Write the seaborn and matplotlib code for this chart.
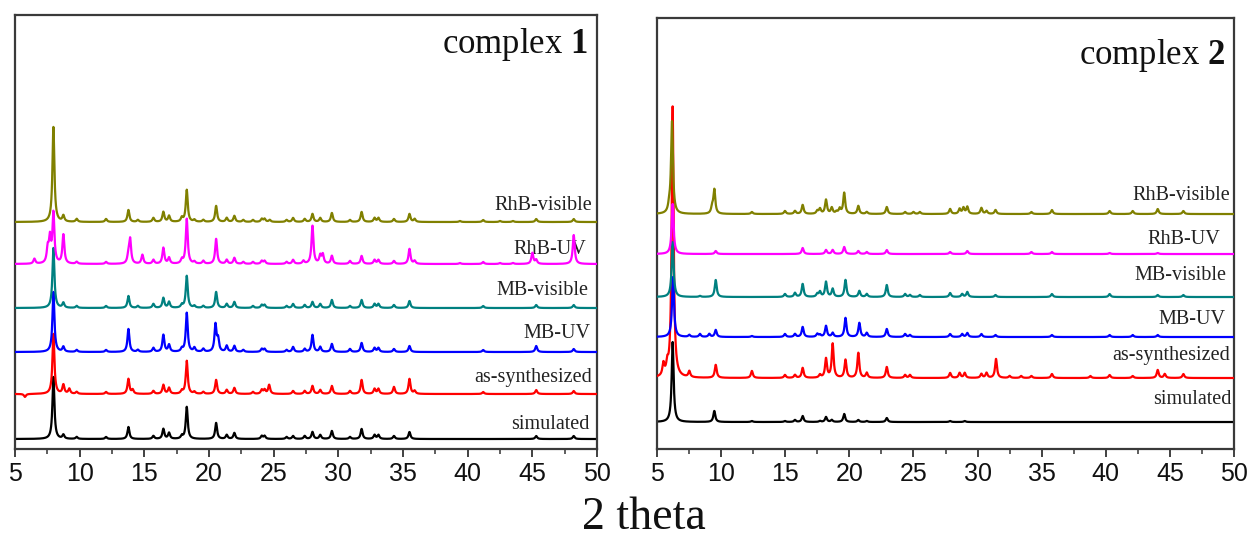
"""
PXRD patterns of complex 1 and complex 2 after dye degradation runs.
Two stacked-pattern panels sharing a common 2 theta label.
"""

import numpy as np
import pandas as pd
import matplotlib
matplotlib.use("Agg")
import matplotlib.pyplot as plt
from matplotlib.ticker import MultipleLocator
import seaborn as sns

sns.set_style("ticks")
plt.rcParams['font.family'] = ['Liberation Sans', 'DejaVu Sans']
plt.rcParams['mathtext.fontset'] = 'custom'
plt.rcParams['mathtext.rm'] = 'Liberation Serif'
plt.rcParams['mathtext.bf'] = 'Liberation Serif:bold'

labels = ['simulated', 'as-synthesized', 'MB-UV', 'MB-visible', 'RhB-UV', 'RhB-visible']
colors = ['#000000', '#ff0000', '#0000ff', '#008080', '#ff00ff', '#808000']

# ---- complex 1: baseline offset of each pattern, then peak positions / heights
c1_offsets = [10, 55, 97, 141, 185, 227]

c1_sim_pos = [7.97, 8.74, 9.77, 12.04, 13.77, 15.7, 16.47, 16.91, 17.9, 18.28, 20.55, 21.37,
              21.96, 24.08, 24.3, 26.0, 26.5, 27.4, 28.0, 28.6, 29.5, 30.9, 31.8, 32.8, 33.1,
              34.3, 35.5, 45.3, 48.2]
c1_sim_h = [62, 4, 2, 2, 12, 3, 10, 6, 3, 32, 16, 4, 6, 3, 3, 2, 3, 3, 7, 4, 8, 2, 10, 4, 4,
            3, 7, 3, 3]

c1_as_pos = [5.77, 7.97, 8.74, 9.2, 9.77, 12.04, 13.77, 14.1, 15.7, 16.47, 16.91, 17.9, 18.28,
             18.87, 19.56, 20.55, 21.37, 21.96, 23.4, 24.08, 24.3, 24.65, 26.5, 27.4, 28.0,
             28.6, 29.5, 30.9, 31.8, 32.8, 33.1, 34.3, 35.5, 35.9, 41.2, 45.3, 48.2]
c1_as_h = [-3, 60, 9, 5, 2, 2, 15, 4, 3, 9, 6, 3, 33, 2, 2, 14, 4, 6, 2, 4, 4, 9, 3, 3, 8,
           4, 8, 3, 14, 5, 5, 7, 15, 3, 2, 4, 3]

c1_mbuv_pos = [7.97, 8.74, 9.77, 12.04, 13.77, 14.5, 15.7, 16.47, 16.91, 17.9, 18.28, 18.87,
               19.56, 20.5, 20.7, 21.37, 21.96, 22.65, 24.08, 24.3, 26.0, 26.5, 27.4, 28.0,
               28.6, 29.5, 30.9, 31.8, 32.8, 33.1, 34.3, 35.5, 41.2, 45.3, 48.2]
c1_mbuv_h = [60, 5, 2, 2, 23, 2, 4, 17, 7, 3, 39, 4, 3, 27, 12, 6, 6, 2, 3, 3, 2, 5, 3, 17,
             5, 8, 3, 9, 4, 4, 3, 6, 2, 6, 3]

c1_mbvis_pos = [7.97, 8.74, 9.77, 12.04, 13.77, 14.5, 15.7, 16.47, 16.91, 17.9, 18.28, 18.87,
                19.56, 20.55, 21.37, 21.96, 23.4, 24.08, 24.3, 26.0, 26.5, 27.4, 28.0, 28.6,
                29.5, 30.9, 31.8, 32.8, 33.1, 34.3, 35.5, 41.2, 45.3, 48.2]
c1_mbvis_h = [60, 5, 2, 2, 12, 2, 4, 10, 6, 3, 32, 2, 2, 16, 4, 6, 2, 3, 3, 2, 4, 3, 6, 4,
              8, 2, 8, 4, 4, 3, 7, 2, 3, 3]

c1_rhbuv_pos = [6.5, 7.53, 7.7, 7.97, 8.74, 9.77, 12.04, 13.77, 13.9, 14.85, 15.7, 16.47,
                16.91, 17.9, 18.28, 18.87, 19.56, 20.55, 21.37, 21.96, 22.65, 23.4, 24.08,
                24.3, 26.0, 26.5, 27.3, 28.0, 28.6, 28.8, 29.5, 30.9, 31.8, 32.8, 33.1, 34.3,
                35.5, 35.9, 39.4, 41.2, 42.5, 43.5, 45.0, 45.3, 48.2]
c1_rhbuv_h = [5, 14, 24, 50, 29, 2, 2, 8, 24, 9, 4, 16, 6, 4, 45, 2, 3, 25, 4, 6, 2, 2, 3,
              3, 2, 4, 3, 38, 8, 9, 8, 3, 8, 4, 4, 3, 15, 3, 1, 2, 1, 1, 11, 4, 29]

c1_rhbvis_pos = [7.97, 8.74, 9.77, 12.04, 13.77, 14.5, 15.7, 16.47, 16.91, 17.9, 18.28, 18.87,
                 19.56, 20.55, 21.37, 21.96, 22.65, 23.4, 24.08, 24.3, 24.7, 26.0, 26.5, 27.4,
                 28.0, 28.6, 29.5, 30.9, 31.8, 32.8, 33.1, 34.3, 35.5, 35.9, 39.4, 41.2, 42.5,
                 43.5, 45.3, 48.2]
c1_rhbvis_h = [95, 6, 3, 3, 12, 2, 4, 10, 6, 4, 32, 2, 2, 16, 4, 6, 2, 2, 3, 3, 2, 2, 4, 3,
               8, 4, 9, 2, 10, 4, 4, 3, 8, 3, 1, 2, 1, 1, 3, 3]

# ---- complex 2
c2_offsets = [27, 71, 112, 152, 195, 235]

c2_sim_pos = [6.22, 9.47, 12.4, 14.98, 15.76, 16.36, 17.71, 18.18, 18.63, 19.6, 20.7, 21.36,
              22.92, 27.86, 29.0]
c2_sim_h = [80, 11, 1, 1, 2, 6, 1, 5, 2, 8, 2, 1, 4, 1, 1]

c2_as_pos = [5.5, 5.8, 6.22, 7.52, 9.58, 12.4, 14.98, 15.76, 16.36, 17.71, 18.18, 18.7, 19.7,
             20.7, 21.36, 22.92, 24.35, 24.73, 27.86, 28.6, 29.0, 30.3, 30.7, 31.44, 32.5,
             33.4, 34.2, 35.8, 38.8, 40.3, 42.1, 44.05, 44.6, 46.05]
c2_as_h = [12, 10, 271, 6, 13, 7, 3, 3, 10, 3, 19, 34, 18, 25, 5, 11, 3, 3, 5, 5, 5, 4, 5,
           19, 2, 2, 2, 4, 2, 3, 2, 8, 4, 4]

c2_mbuv_pos = [6.25, 7.52, 8.35, 9.08, 9.58, 12.4, 14.98, 15.76, 16.36, 17.5, 17.71, 18.18,
               18.7, 19.7, 20.78, 21.36, 22.92, 24.35, 24.73, 27.86, 28.8, 29.2, 30.3, 31.4,
               35.8, 40.3, 42.1, 44.05]
c2_mbuv_h = [60, 2, 3, 3, 7, 1, 3, 3, 10, 3, 2, 11, 4, 19, 14, 4, 8, 3, 2, 3, 3, 4, 3, 2,
             2, 2, 2, 2]

c2_mbvis_pos = [6.22, 8.35, 9.58, 14.98, 15.76, 16.36, 17.5, 17.71, 18.18, 18.7, 19.7, 20.78,
                21.36, 22.92, 24.35, 24.73, 25.5, 27.86, 28.8, 29.2, 31.4, 35.8, 40.3, 44.05,
                46.05]
c2_mbvis_h = [55, 1, 17, 3, 4, 13, 3, 5, 15, 8, 17, 6, 3, 12, 3, 2, 2, 4, 3, 5, 2, 3, 3, 2, 2]

c2_rhbuv_pos = [6.22, 9.58, 16.36, 18.18, 18.7, 19.6, 20.7, 21.36, 22.92, 27.86, 29.2, 34.2,
                35.8, 40.3, 44.05]
c2_rhbuv_h = [50, 3, 6, 4, 4, 7, 3, 2, 4, 2, 3, 2, 2, 1, 1]

c2_rhbvis_pos = [5.95, 6.17, 9.3, 9.47, 12.4, 14.98, 15.76, 16.36, 17.5, 17.71, 18.18, 18.63,
                 19.0, 19.25, 19.6, 20.7, 21.36, 22.92, 24.35, 25.0, 25.5, 27.86, 28.6, 28.9,
                 29.2, 30.3, 30.7, 31.4, 34.2, 35.8, 40.3, 42.1, 44.05, 46.05]
c2_rhbvis_h = [6, 92, 6, 24, 2, 3, 3, 9, 3, 5, 14, 6, 2, 5, 21, 8, 2, 7, 2, 2, 2, 5, 5, 6,
               7, 6, 3, 4, 2, 4, 3, 3, 5, 3]

c1_peaks = [(c1_sim_pos, c1_sim_h), (c1_as_pos, c1_as_h), (c1_mbuv_pos, c1_mbuv_h),
            (c1_mbvis_pos, c1_mbvis_h), (c1_rhbuv_pos, c1_rhbuv_h), (c1_rhbvis_pos, c1_rhbvis_h)]
c2_peaks = [(c2_sim_pos, c2_sim_h), (c2_as_pos, c2_as_h), (c2_mbuv_pos, c2_mbuv_h),
            (c2_mbvis_pos, c2_mbvis_h), (c2_rhbuv_pos, c2_rhbuv_h), (c2_rhbvis_pos, c2_rhbvis_h)]

# label placement (x of right edge, baseline y) - layout only
c1_label_x = [49.45, 49.6, 49.5, 49.35, 49.2, 49.6]
c1_label_y = [20.5, 67.5, 111.5, 154.5, 195.5, 239.5]
c2_label_x = [49.8, 49.7, 49.3, 49.4, 48.9, 49.7]
c2_label_y = [45.5, 89.5, 125.5, 169.5, 205.5, 249.5]


def build_patterns(peaks, offsets):
    """Turn the peak lists into stacked profiles in one long table"""
    two_theta = np.arange(5.0, 50.0, 0.01)
    frames = []
    for lab, (pos, h), off in zip(labels, peaks, offsets):
        y = np.full_like(two_theta, float(off))
        for p, a in zip(pos, h):
            y += a / (1.0 + ((two_theta - p) / 0.09) ** 2)
        frames.append(pd.DataFrame({'two_theta': two_theta, 'intensity': y, 'sample': lab}))
    return pd.concat(frames, ignore_index=True)


def draw_panel(ax, df, order, label_x, label_y, ymax, title, title_y):
    for i in order:
        sub = df[df['sample'] == labels[i]]
        sns.lineplot(data=sub, x='two_theta', y='intensity', color=colors[i],
                     linewidth=1.6, estimator=None, sort=False, ax=ax, zorder=2 + i)
    for i, lab in enumerate(labels):
        ax.text(label_x[i], label_y[i], lab, ha='right', va='baseline',
                fontsize=14.5, family='Liberation Serif', color='#222222')
    ax.text(0.984, title_y, title, transform=ax.transAxes, ha='right', va='baseline',
            fontsize=25, family='Liberation Serif', color='#111111')
    ax.set_xlim(5, 50)
    ax.set_ylim(0, ymax)
    ax.set_yticks([])
    ax.set_xlabel('')
    ax.set_ylabel('')
    ax.xaxis.set_major_locator(MultipleLocator(5))
    ax.xaxis.set_minor_locator(MultipleLocator(2.5))
    ax.tick_params(axis='x', which='major', direction='out', length=6, width=1.3,
                   labelsize=18, pad=3, colors='#333333', labelcolor='#111111')
    ax.tick_params(axis='x', which='minor', direction='out', length=3.5, width=1.1,
                   colors='#333333')
    for s in ax.spines.values():
        s.set_linewidth(1.6)
        s.set_color('#3a3a3a')


df1 = build_patterns(c1_peaks, c1_offsets)
df2 = build_patterns(c2_peaks, c2_offsets)

fig = plt.figure(figsize=(12.5, 5.4), dpi=100)
ax1 = fig.add_axes([0.012, 0.1685, 0.4656, 0.8037])
ax2 = fig.add_axes([0.5256, 0.1685, 0.4616, 0.7981])

draw_panel(ax1, df1, [0, 1, 2, 3, 4, 5], c1_label_x, c1_label_y, 434,
           r'complex $\mathbf{1}$', 0.912)
draw_panel(ax2, df2, [0, 2, 3, 4, 5, 1], c2_label_x, c2_label_y, 431,
           r'complex $\mathbf{2}$', 0.893)

fig.text(0.515, 0.002, '2 theta', ha='center', va='bottom', fontsize=33,
         family='Liberation Serif', color='#111111')

fig.savefig('out.png', dpi=100)
plt.close(fig)
